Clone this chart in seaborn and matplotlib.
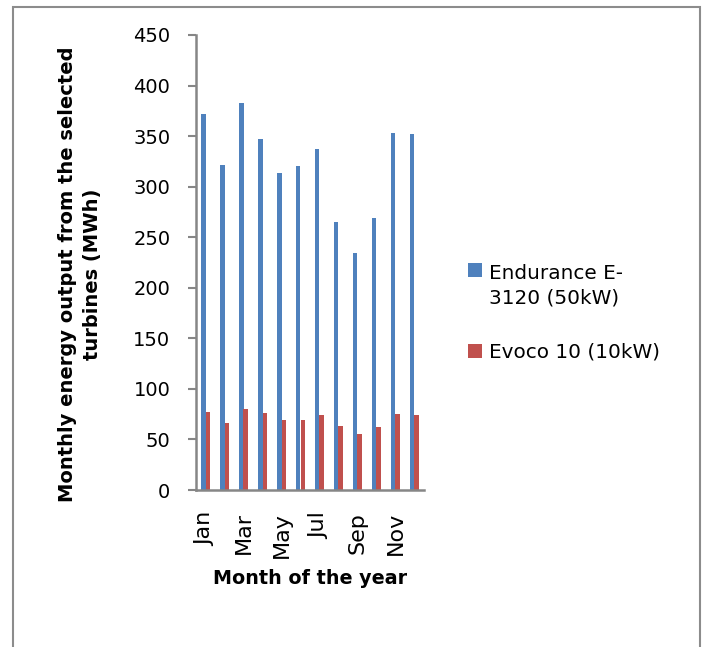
import matplotlib
matplotlib.use("Agg")
import matplotlib.pyplot as plt
import matplotlib.patches as mpatches
import seaborn as sns
import pandas as pd

months = ["Jan", "Feb", "Mar", "Apr", "May", "Jun",
          "Jul", "Aug", "Sep", "Oct", "Nov", "Dec"]
endurance = [372, 321, 383, 347, 314, 320, 337, 265, 234, 269, 353, 352]
evoco = [77, 66, 80, 76, 69, 69, 74, 63, 55, 62, 75, 74]
series_names = ["Endurance E-\n3120 (50kW)", "Evoco 10 (10kW)"]
shown_months = ["Jan", "Mar", "May", "Jul", "Sep", "Nov"]
y_ticks = [0, 50, 100, 150, 200, 250, 300, 350, 400, 450]

df = pd.DataFrame({
    "month": months * 2,
    "energy": endurance + evoco,
    "turbine": [series_names[0]] * 12 + [series_names[1]] * 12,
})

sns.set_style("white")
plt.rcParams["font.family"] = ["DejaVu Sans"]
plt.rcParams["text.color"] = "black"
plt.rcParams["xtick.color"] = "black"
plt.rcParams["ytick.color"] = "black"

W, H = 706, 647
fig = plt.figure(figsize=(W / 100, H / 100), dpi=100)
ax = fig.add_axes([196 / W, 1 - 490 / H, 228 / W, 455 / H])

palette = {series_names[0]: "#4F81BD", series_names[1]: "#C0504D"}
sns.barplot(data=df, x="month", y="energy", hue="turbine", order=months,
            hue_order=series_names, palette=palette, width=0.44,
            saturation=1, errorbar=None, ax=ax, legend=False, linewidth=0)

axis_gray = "#868686"
ax.set_ylim(0, 450)
ax.set_xlim(-0.5, 11.5)
ax.set_yticks(y_ticks)
ax.set_yticklabels([str(v) for v in y_ticks], fontsize=14)
ax.set_xticks([months.index(m) for m in shown_months])
ax.set_xticklabels(shown_months, rotation=90, fontsize=16, va="top")
ax.tick_params(axis="y", direction="out", length=5.5, width=1.5,
               color=axis_gray, labelcolor="black", pad=13, left=True)
ax.tick_params(axis="x", length=0, pad=16, labelcolor="black")
for side in ("top", "right"):
    ax.spines[side].set_visible(False)
for side in ("left", "bottom"):
    ax.spines[side].set_color(axis_gray)
    ax.spines[side].set_linewidth(1.8)

ax.set_xlabel("")
ax.set_ylabel("")
fig.text(310 / W, 1 - 578 / H, "Month of the year", ha="center",
         va="center", fontsize=13.8, fontweight="bold", color="black")
fig.text(80 / W, 1 - 274 / H,
         "Monthly energy output from the selected\nturbines (MWh)",
         ha="center", va="center", rotation=90, fontsize=14,
         fontweight="bold", multialignment="center", linespacing=1.4,
         color="black")

# legend: colour keys beside their series names
key_x = 468
key_size = 14
for name, key_y, text_y in zip(series_names, (270, 351), (286, 352)):
    fig.add_artist(mpatches.Rectangle(
        (key_x / W, 1 - (key_y + key_size / 2) / H), key_size / W,
        key_size / H, transform=fig.transFigure, facecolor=palette[name],
        edgecolor="none"))
    fig.text(489 / W, 1 - text_y / H, name, ha="left", va="center",
             fontsize=14.4, linespacing=1.37, color="black")

# outer chart frame
fig.add_artist(mpatches.Rectangle((13 / W, -0.05), (700 - 13) / W,
                                  1.05 - 7 / H, transform=fig.transFigure,
                                  fill=False, edgecolor="#8c8c8c",
                                  linewidth=1.5))

fig.savefig("out.png", dpi=100)
